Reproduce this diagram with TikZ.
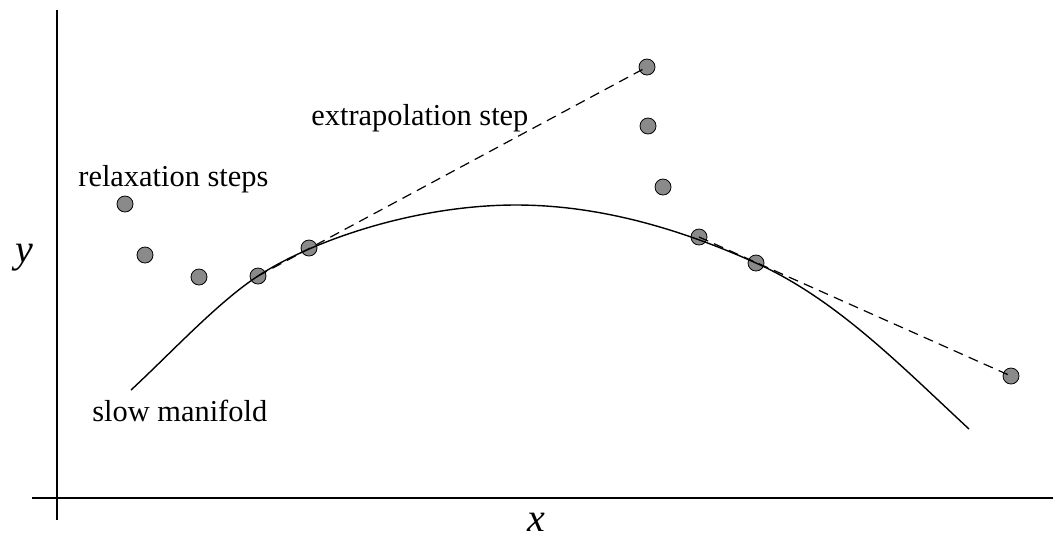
\documentclass[tikz,border=0pt]{standalone}
\usepackage{fontspec}
\setmainfont{Liberation Serif}
\begin{document}
\begin{tikzpicture}[x=0.5pt,y=-0.5pt,
  axis/.style={line width=0.75pt},
  manifold/.style={line width=0.7pt},
  extra/.style={line width=0.6pt,dash pattern=on 5pt off 3.2pt},
  dot/.style={circle,draw=black,line width=0.4pt,fill={rgb,255:red,138;green,138;blue,138},minimum size=8pt,inner sep=0pt},
  lab/.style={font=\fontsize{15.2}{18}\selectfont,inner sep=0pt},
  axlab/.style={font=\fontsize{20}{24}\selectfont\itshape,inner sep=0pt}]
\useasboundingbox (0,0) rectangle (1053,538);
% axes
\coordinate (ytop) at (57,10);
\coordinate (ybot) at (57,520);
\coordinate (xl) at (32,498);
\coordinate (xr) at (1053,498);
\draw[axis] (ytop) -- (ybot);
\draw[axis] (xl) -- (xr);
% points
\node[dot] (p1) at (125,204) {};
\node[dot] (p2) at (145,255) {};
\node[dot] (p3) at (199,277) {};
\node[dot] (p4) at (258,276) {};
\node[dot] (p5) at (309,248) {};
\node[dot] (p6) at (647,67) {};
\node[dot] (p7) at (648,126) {};
\node[dot] (p8) at (663,187) {};
\node[dot] (p9) at (699,237) {};
\node[dot] (p10) at (756,263) {};
\node[dot] (p11) at (1011,376) {};
% slow manifold
\coordinate (m0) at (131,390);
\coordinate (mtop) at (516,205);
\coordinate (m1) at (969,429);
\draw[manifold] (m0) .. controls (171,353) and (218,302) .. (p4.center)
  .. controls (313,240) and (416,205) .. (mtop)
  .. controls (596,205) and (676,227) .. (p10.center)
  .. controls (836,299) and (900,365) .. (m1);
% extrapolation lines
\draw[extra] (p4.center) -- (p6.center);
\draw[extra] (p9.center) -- (p11.center);
% labels
\node[lab,anchor=base west] (rel) at (78,186) {relaxation steps};
\node[lab,anchor=base west] (ext) at (311,125) {extrapolation step};
\node[lab,anchor=base west] (slow) at (92,421) {slow manifold};
\node[axlab] (ylab) at (24,258) {y};
\node[axlab] (xlab) at (536,522) {x};
\end{tikzpicture}
\end{document}
